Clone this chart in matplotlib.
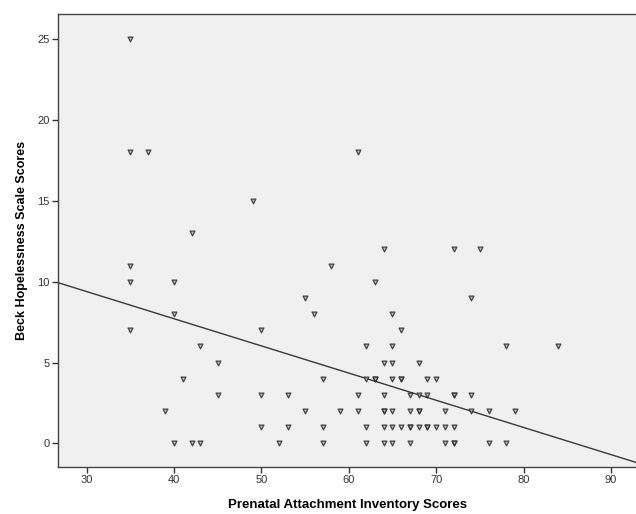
import matplotlib.pyplot as plt

# Prenatal Attachment Inventory (x) vs Beck Hopelessness Scale (y)
# repeated pairs appear darker in the original, so they are listed twice
pai = [35, 35, 35, 35, 35,
       37, 39,
       40, 40, 40,
       41,
       42, 42,
       43, 43,
       45, 45,
       49,
       50, 50, 50,
       52,
       53, 53,
       55, 55,
       56,
       57, 57, 57,
       58, 59,
       61, 61, 61,
       62, 62, 62, 62,
       63, 63, 63,
       64, 64, 64, 64, 64, 64, 64,
       65, 65, 65, 65, 65, 65, 65,
       66, 66, 66, 66,
       67, 67, 67, 67, 67,
       68, 68, 68, 68, 68,
       69, 69, 69, 69,
       70, 70,
       71, 71, 71,
       72, 72, 72, 72, 72, 72,
       74, 74, 74,
       75,
       76, 76,
       78, 78,
       79, 84]
bhs = [25, 18, 11, 10, 7,
       18, 2,
       10, 8, 0,
       4,
       13, 0,
       6, 0,
       5, 3,
       15,
       7, 3, 1,
       0,
       3, 1,
       9, 2,
       8,
       4, 1, 0,
       11, 2,
       18, 3, 2,
       6, 4, 1, 0,
       10, 4, 4,
       12, 5, 3, 2, 2, 1, 0,
       8, 6, 5, 4, 2, 1, 0,
       7, 4, 4, 1,
       3, 2, 1, 1, 0,
       5, 3, 2, 2, 1,
       4, 3, 1, 1,
       4, 1,
       2, 1, 0,
       12, 3, 3, 1, 0, 0,
       9, 3, 2,
       12,
       2, 0,
       6, 0,
       2, 6]

# fit line
fit_intercept = 14.43
fit_slope = -0.168

xticks = [30, 40, 50, 60, 70, 80, 90]
yticks = [0, 5, 10, 15, 20, 25]

fig = plt.figure(figsize=(6.36, 5.14), dpi=100)
ax = fig.add_axes([0.0907, 0.092, 0.9103, 0.8808])
ax.set_facecolor('#f0f0f0')

ax.scatter(pai, bhs, marker='v', s=12, facecolor='#b0b0b0',
           edgecolor='#222222', linewidth=0.9, alpha=0.8, zorder=3)

ax.axline((0, fit_intercept), slope=fit_slope, color='#3a3a3a',
          linewidth=1.0, zorder=2)

ax.set_xlim(26.67, 92.95)
ax.set_ylim(-1.44, 26.56)
ax.set_xticks(xticks)
ax.set_yticks(yticks)

for side in ['left', 'bottom', 'top']:
    ax.spines[side].set_color('#444444')
    ax.spines[side].set_linewidth(1.0)
ax.spines['right'].set_visible(False)

ax.tick_params(direction='out', length=4, width=1, color='#333333',
               labelsize=8, labelcolor='#333333', pad=2)
for lab in ax.get_xticklabels() + ax.get_yticklabels():
    lab.set_family('Liberation Sans')

ax.set_xlabel('Prenatal Attachment Inventory Scores', fontsize=9.5,
              fontweight='bold', family='Liberation Sans')
ax.set_ylabel('Beck Hopelessness Scale Scores', fontsize=9,
              fontweight='bold', family='Liberation Sans')
ax.xaxis.set_label_coords(0.5, -0.0846)
ax.xaxis.label.set_va('center')
ax.yaxis.set_label_coords(-0.062, 0.5)
ax.yaxis.label.set_va('center')

fig.savefig('out.png', dpi=100)
